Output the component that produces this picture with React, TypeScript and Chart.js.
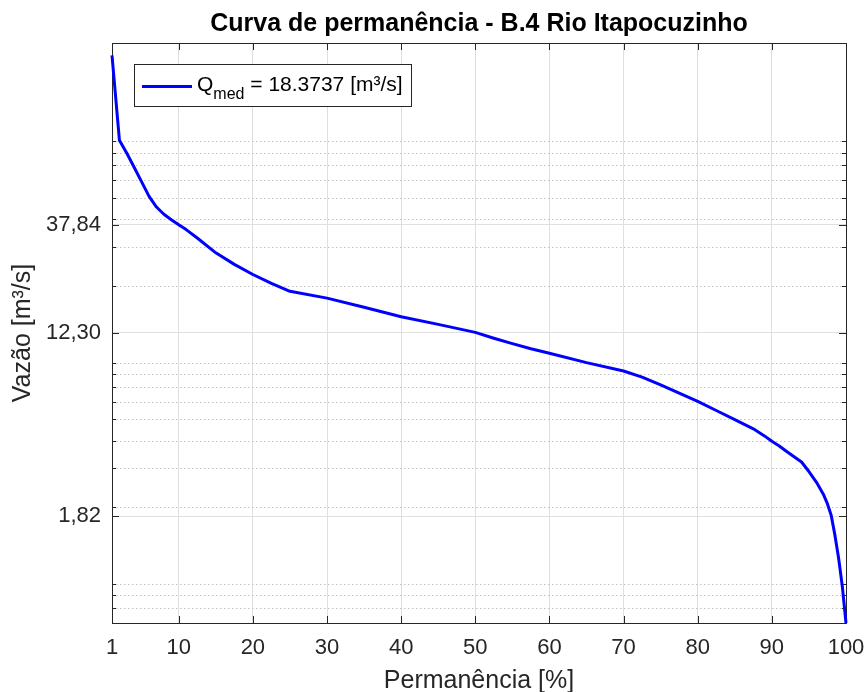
import React, { useEffect, useRef } from "react";
import { Chart, registerables } from "chart.js";

Chart.register(...registerables);

// ---- Data ----
const permanence = [1, 2, 3, 4, 5, 6, 7, 8, 9, 10, 11, 12.5, 15, 17.5, 20, 22.5, 25, 30, 35, 40, 45, 50, 52.5, 55, 57.5, 60, 65, 70, 72.5, 75, 77.5, 80, 82.5, 85, 87.5, 89, 90, 91, 92, 93, 94, 95, 96, 97, 97.5, 98, 98.5, 99, 99.5, 100];
const flow = [220, 91, 79.4, 68.5, 59, 50.7, 45.4, 42.1, 39.8, 37.8, 35.9, 32.9, 28.2, 25.0, 22.5, 20.5, 18.9, 17.6, 16.0, 14.5, 13.4, 12.33, 11.6, 10.96, 10.4, 9.92, 9.0, 8.25, 7.74, 7.14, 6.55, 6.01, 5.47, 4.97, 4.52, 4.2, 3.97, 3.78, 3.57, 3.38, 3.2, 2.9, 2.6, 2.27, 2.07, 1.84, 1.5, 1.18, 0.88, 0.6];

const xTickValues = [1, 10, 20, 30, 40, 50, 60, 70, 80, 90, 100];
const yTickValues = [1.82, 12.3, 37.84];
const yTickLabels = ["1,82", "12,30", "37,84"];
const yMinorGrid = [0.7, 0.8, 0.9, 2, 3, 4, 5, 6, 7, 8, 9, 20, 30, 40, 50, 60, 70, 80, 90];

const chartTitle = "Curva de permanência - B.4 Rio Itapocuzinho";
const xTitle = "Permanência [%]";
const yTitle = "Vazão [m³/s]";
const legendMain = "Q";
const legendSub = "med";
const legendRest = " = 18.3737 [m³/s]";

const FONT = "'Liberation Sans', Arial, Helvetica, sans-serif";
const AXIS = "#262626";
const LINE = "#0000ff";

const matlabAxes = {
  id: "matlabAxes",
  beforeDatasetsDraw(chart: any) {
    const { ctx, chartArea, scales } = chart;
    const { left, right, top, bottom } = chartArea;
    const x = scales.x;
    const y = scales.y;
    ctx.save();
    // minor dotted grid
    ctx.strokeStyle = "#c2c2c2";
    ctx.lineWidth = 1;
    ctx.setLineDash([1.5, 2.5]);
    for (const v of yMinorGrid) {
      const py = Math.round(y.getPixelForValue(v)) + 0.5;
      ctx.beginPath();
      ctx.moveTo(left, py);
      ctx.lineTo(right, py);
      ctx.stroke();
    }
    ctx.setLineDash([]);
    ctx.strokeStyle = AXIS;
    ctx.lineWidth = 1;
    // minor y ticks
    for (const v of yMinorGrid) {
      const py = Math.round(y.getPixelForValue(v)) + 0.5;
      ctx.beginPath();
      ctx.moveTo(left, py);
      ctx.lineTo(left + 4, py);
      ctx.moveTo(right, py);
      ctx.lineTo(right - 4, py);
      ctx.stroke();
    }
    // major y ticks
    for (const v of yTickValues) {
      const py = Math.round(y.getPixelForValue(v)) + 0.5;
      ctx.beginPath();
      ctx.moveTo(left, py);
      ctx.lineTo(left + 7, py);
      ctx.moveTo(right, py);
      ctx.lineTo(right - 7, py);
      ctx.stroke();
    }
    // x ticks
    for (const v of xTickValues) {
      const px = Math.round(x.getPixelForValue(v)) + 0.5;
      ctx.beginPath();
      ctx.moveTo(px, bottom);
      ctx.lineTo(px, bottom - 7);
      ctx.moveTo(px, top);
      ctx.lineTo(px, top + 7);
      ctx.stroke();
    }
    // box
    ctx.strokeRect(Math.round(left) + 0.5, Math.round(top) + 0.5, Math.round(right - left), Math.round(bottom - top));
    ctx.restore();
  },
  afterDatasetsDraw(chart: any) {
    const { ctx, chartArea } = chart;
    const bx = chartArea.left + 22;
    const by = chartArea.top + 21;
    ctx.save();
    ctx.font = `21px ${FONT}`;
    const wQ = ctx.measureText(legendMain).width;
    const wRest = ctx.measureText(legendRest).width;
    ctx.font = `16px ${FONT}`;
    const wSub = ctx.measureText(legendSub).width;
    const textX = bx + 63;
    const bw = 63 + wQ + wSub + wRest + 8;
    const bh = 42;
    ctx.fillStyle = "#ffffff";
    ctx.fillRect(bx, by, bw, bh);
    ctx.strokeStyle = AXIS;
    ctx.lineWidth = 1;
    ctx.strokeRect(Math.round(bx) + 0.5, Math.round(by) + 0.5, Math.round(bw), bh);
    ctx.strokeStyle = LINE;
    ctx.lineWidth = 3;
    ctx.beginPath();
    ctx.moveTo(bx + 8, by + 22.5);
    ctx.lineTo(bx + 58, by + 22.5);
    ctx.stroke();
    ctx.fillStyle = "#000000";
    ctx.textBaseline = "alphabetic";
    ctx.textAlign = "left";
    ctx.font = `21px ${FONT}`;
    ctx.fillText(legendMain, textX, by + 27);
    ctx.font = `16px ${FONT}`;
    ctx.fillText(legendSub, textX + wQ, by + 35);
    ctx.font = `21px ${FONT}`;
    ctx.fillText(legendRest, textX + wQ + wSub, by + 27);
    ctx.restore();
  },
};

export default function App() {
  const ref = useRef<HTMLCanvasElement>(null);
  useEffect(() => {
    const canvas = ref.current;
    if (!canvas) return;
    const points = permanence.map((p, i) => ({ x: p, y: flow[i] }));
    const chart = new Chart(canvas, {
      type: "line",
      data: {
        datasets: [
          {
            label: legendMain + legendSub + legendRest,
            data: points,
            borderColor: LINE,
            backgroundColor: LINE,
            borderWidth: 3,
            pointRadius: 0,
            tension: 0,
            borderJoinStyle: "round",
            fill: false,
            clip: false as any,
          },
        ],
      },
      options: {
        responsive: false,
        animation: false,
        devicePixelRatio: 1,
        layout: { padding: { left: 0, right: 19, top: 0, bottom: 0 } },
        plugins: {
          legend: { display: false },
          tooltip: { enabled: false },
          title: {
            display: true,
            text: chartTitle,
            fullSize: false,
            color: "#000000",
            font: { family: FONT, size: 25, weight: "bold" },
            padding: { top: 9, bottom: 4 },
          },
        },
        scales: {
          x: {
            type: "linear",
            min: 1,
            max: 100,
            afterBuildTicks: (s: any) => {
              s.ticks = xTickValues.map((v) => ({ value: v }));
            },
            afterFit: (s: any) => {
              s.height = 69;
              s.paddingLeft = 0;
              s.paddingRight = 0;
            },
            ticks: {
              autoSkip: false,
              maxRotation: 0,
              padding: 12,
              color: AXIS,
              font: { family: FONT, size: 22 },
              callback: (v: any) => String(v),
            },
            grid: { color: "#dfdfdf", lineWidth: 1, drawTicks: false },
            border: { display: false },
            title: {
              display: true,
              text: xTitle,
              color: AXIS,
              font: { family: FONT, size: 25, lineHeight: 0.9 },
              padding: { top: 0, bottom: 0 },
            },
          },
          y: {
            type: "logarithmic",
            min: 0.6,
            max: 250,
            afterBuildTicks: (s: any) => {
              s.ticks = yTickValues.map((v) => ({ value: v }));
            },
            afterFit: (s: any) => {
              s.width = 112;
              s.paddingTop = 0;
              s.paddingBottom = 0;
            },
            ticks: {
              autoSkip: false,
              padding: 11,
              color: AXIS,
              font: { family: FONT, size: 22 },
              callback: (v: any) => {
                const i = yTickValues.indexOf(Number(v));
                return i >= 0 ? yTickLabels[i] : "";
              },
            },
            grid: { color: "#dfdfdf", lineWidth: 1, drawTicks: false },
            border: { display: false },
            title: {
              display: true,
              text: yTitle,
              color: AXIS,
              font: { family: FONT, size: 25, lineHeight: 0.9 },
              padding: { top: 12, bottom: 0 },
            },
          },
        },
      },
      plugins: [matlabAxes],
    } as any);
    return () => chart.destroy();
  }, []);
  return (
    <div style={{ position: "fixed", left: 0, top: 0, width: 865, height: 692, background: "#ffffff" }}>
      <canvas ref={ref} width={865} height={692} style={{ display: "block", width: 865, height: 692 }} />
    </div>
  );
}
